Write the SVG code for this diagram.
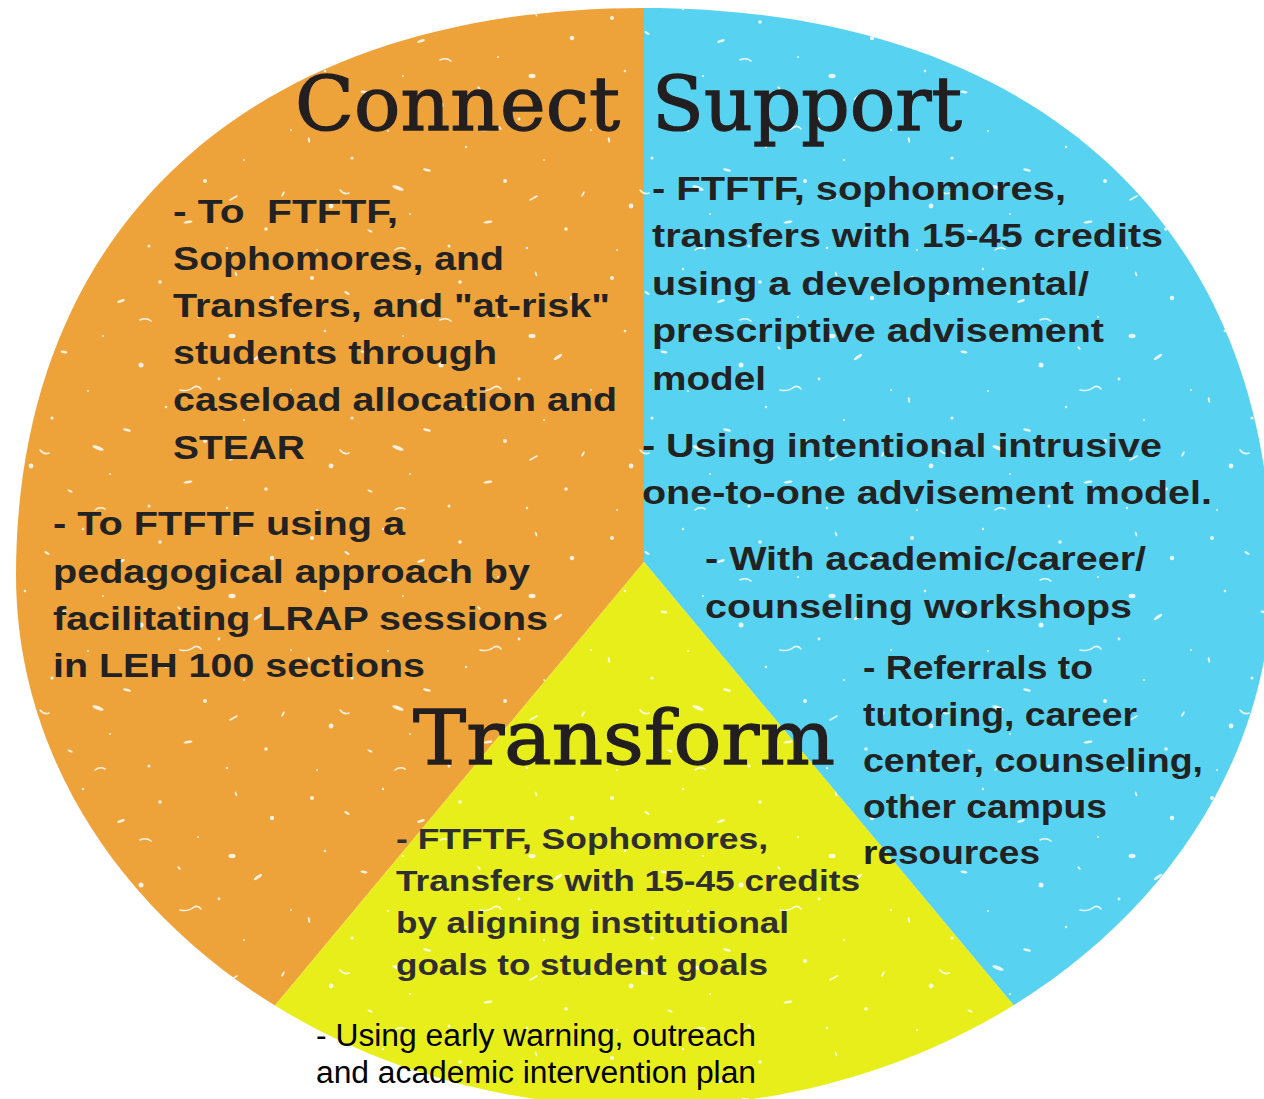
<svg xmlns="http://www.w3.org/2000/svg" width="1264" height="1099" viewBox="0 0 1264 1099">
  <defs>
    <style>
      .h { font-family: "DejaVu Serif", "Liberation Serif", serif; font-size: 74px; fill: #231f20; stroke: #231f20; stroke-width: 1.3px; }
      .t { font-family: "Liberation Sans", Arial, sans-serif; font-weight: bold; font-size: 34px; fill: #222; }
      .s { font-family: "Liberation Sans", Arial, sans-serif; font-weight: bold; font-size: 29px; fill: #2f2f2f; }
      .n { font-family: "Liberation Sans Narrow", "Liberation Sans", Arial, sans-serif; font-size: 31px; fill: #000; }
      .speck { fill: #fff; }
      .streak { fill: none; stroke: #fff; stroke-width: 1.6; stroke-linecap: round; }
    </style>
    <!-- outline of the disc: squarish upper half, rounder lower half -->
    <clipPath id="disc">
      <path d="M16,575 C16,223 255,8 644,8 C1033,8 1272,223 1272,575 C1272,869 991,1107 644,1107 C297,1107 16,869 16,575 Z"/>
    </clipPath>
    <!-- scattered white flecks laid over the coloured sectors -->
    <pattern id="grain" width="300" height="260" patternUnits="userSpaceOnUse">
      <g class="speck">
        <circle cx="12" cy="18" r="2"/>
        <ellipse cx="47" cy="33" rx="3" ry="1.2" transform="rotate(30 47 33)"/>
        <circle cx="83" cy="9" r="1.2"/>
        <ellipse cx="121" cy="41" rx="4" ry="1.3" transform="rotate(-20 121 41)"/>
        <circle cx="160" cy="22" r="1.8"/>
        <circle cx="198" cy="57" r="1"/>
        <ellipse cx="236" cy="14" rx="2.5" ry="1" transform="rotate(70 236 14)"/>
        <circle cx="272" cy="38" r="2.2"/>
        <circle cx="25" cy="71" r="1.3"/>
        <ellipse cx="64" cy="92" rx="3.5" ry="1.2" transform="rotate(10 64 92)"/>
        <circle cx="103" cy="76" r="1"/>
        <circle cx="141" cy="105" r="2.5"/>
        <ellipse cx="179" cy="88" rx="2" ry="1" transform="rotate(45 179 88)"/>
        <circle cx="219" cy="119" r="1.4"/>
        <ellipse cx="258" cy="97" rx="5" ry="1.4" transform="rotate(-35 258 97)"/>
        <circle cx="291" cy="130" r="1"/>
        <ellipse cx="9" cy="140" rx="3" ry="1.1" transform="rotate(80 9 140)"/>
        <circle cx="52" cy="158" r="1.6"/>
        <circle cx="88" cy="131" r="1"/>
        <ellipse cx="127" cy="170" rx="4" ry="1.2" transform="rotate(15 127 170)"/>
        <circle cx="166" cy="147" r="1.2"/>
        <circle cx="205" cy="181" r="2"/>
        <circle cx="244" cy="160" r="1"/>
        <ellipse cx="283" cy="194" rx="3" ry="1" transform="rotate(-60 283 194)"/>
        <circle cx="31" cy="206" r="2.4"/>
        <ellipse cx="70" cy="231" rx="2.8" ry="1" transform="rotate(25 70 231)"/>
        <circle cx="110" cy="214" r="1"/>
        <circle cx="149" cy="246" r="1.5"/>
        <ellipse cx="188" cy="222" rx="4.5" ry="1.3" transform="rotate(-10 188 222)"/>
        <circle cx="227" cy="248" r="1.2"/>
        <circle cx="266" cy="229" r="1.8"/>
        <circle cx="17" cy="250" r="1"/>
        <ellipse cx="98" cy="188" rx="6" ry="1.8" transform="rotate(20 98 188)"/>
        <ellipse cx="232" cy="76" rx="3.5" ry="2.2"/>
      </g>
      <path class="streak" d="M140,60 q6,-3 11,1"/>
      <path class="streak" d="M40,190 q4,5 9,3"/>
      <path class="streak" d="M230,200 l7,-4"/>
      <path class="streak" d="M95,250 q5,-4 10,-1"/>
      <path class="streak" d="M180,130 q8,2 14,-3 q4,-2 7,2"/>
    </pattern>
  </defs>

  <rect width="1264" height="1099" fill="#fff"/>

  <!-- three sectors meeting at the hub (644,562) -->
  <g clip-path="url(#disc)">
    <polygon id="sector-connect" points="644,562 644,-10 -10,-10 -10,1110 188,1110" fill="#eea33a"/>
    <polygon id="sector-support" points="644,562 644,-10 1280,-10 1280,1110 1101,1110" fill="#57d3f1"/>
    <polygon id="sector-transform" points="644,562 188,1110 1101,1110" fill="#e8ee19"/>
    <rect x="0" y="0" width="1264" height="1099" fill="url(#grain)" opacity="0.85"/>
  </g>

  <!-- Connect -->
  <g id="connect">
    <text class="h" x="295" y="130" textLength="325" lengthAdjust="spacingAndGlyphs">Connect</text>
    <g class="t">
      <text x="173" y="223" textLength="225" lengthAdjust="spacingAndGlyphs" xml:space="preserve">- To  FTFTF,</text>
      <text x="173" y="270" textLength="331" lengthAdjust="spacingAndGlyphs">Sophomores, and</text>
      <text x="173" y="317" textLength="437" lengthAdjust="spacingAndGlyphs">Transfers, and "at-risk"</text>
      <text x="173" y="364" textLength="324" lengthAdjust="spacingAndGlyphs">students through</text>
      <text x="173" y="411" textLength="444" lengthAdjust="spacingAndGlyphs">caseload allocation and</text>
      <text x="173" y="459" textLength="132" lengthAdjust="spacingAndGlyphs">STEAR</text>
    </g>
    <g class="t">
      <text x="53" y="535" textLength="352" lengthAdjust="spacingAndGlyphs">- To FTFTF using a</text>
      <text x="53" y="583" textLength="477" lengthAdjust="spacingAndGlyphs">pedagogical approach by</text>
      <text x="53" y="630" textLength="495" lengthAdjust="spacingAndGlyphs">facilitating LRAP sessions</text>
      <text x="53" y="677" textLength="372" lengthAdjust="spacingAndGlyphs">in LEH 100 sections</text>
    </g>
  </g>

  <!-- Support -->
  <g id="support">
    <text class="h" x="652" y="130" textLength="310" lengthAdjust="spacingAndGlyphs">Support</text>
    <g class="t">
      <text x="652" y="200" textLength="414" lengthAdjust="spacingAndGlyphs">- FTFTF, sophomores,</text>
      <text x="652" y="247" textLength="511" lengthAdjust="spacingAndGlyphs">transfers with 15-45 credits</text>
      <text x="652" y="295" textLength="437" lengthAdjust="spacingAndGlyphs">using a developmental/</text>
      <text x="652" y="342" textLength="452" lengthAdjust="spacingAndGlyphs">prescriptive advisement</text>
      <text x="652" y="390" textLength="114" lengthAdjust="spacingAndGlyphs">model</text>
    </g>
    <g class="t">
      <text x="642" y="457" textLength="520" lengthAdjust="spacingAndGlyphs">- Using intentional intrusive</text>
      <text x="642" y="504" textLength="570" lengthAdjust="spacingAndGlyphs">one-to-one advisement model.</text>
    </g>
    <g class="t">
      <text x="705" y="570" textLength="441" lengthAdjust="spacingAndGlyphs">- With academic/career/</text>
      <text x="705" y="618" textLength="427" lengthAdjust="spacingAndGlyphs">counseling workshops</text>
    </g>
    <g class="t">
      <text x="863" y="679" textLength="230" lengthAdjust="spacingAndGlyphs">- Referrals to</text>
      <text x="863" y="726" textLength="274" lengthAdjust="spacingAndGlyphs">tutoring, career</text>
      <text x="863" y="772" textLength="340" lengthAdjust="spacingAndGlyphs">center, counseling,</text>
      <text x="863" y="818" textLength="244" lengthAdjust="spacingAndGlyphs">other campus</text>
      <text x="863" y="864" textLength="177" lengthAdjust="spacingAndGlyphs">resources</text>
    </g>
  </g>

  <!-- Transform -->
  <g id="transform">
    <text class="h" x="413" y="764" textLength="422" lengthAdjust="spacingAndGlyphs">Transform</text>
    <g class="s">
      <text x="396" y="849" textLength="372" lengthAdjust="spacingAndGlyphs">- FTFTF, Sophomores,</text>
      <text x="396" y="891" textLength="464" lengthAdjust="spacingAndGlyphs">Transfers with 15-45 credits</text>
      <text x="396" y="933" textLength="393" lengthAdjust="spacingAndGlyphs">by aligning institutional</text>
      <text x="396" y="975" textLength="372" lengthAdjust="spacingAndGlyphs">goals to student goals</text>
    </g>
    <g class="n">
      <text x="316" y="1046" textLength="440" lengthAdjust="spacingAndGlyphs">- Using early warning, outreach</text>
      <text x="316" y="1083" textLength="440" lengthAdjust="spacingAndGlyphs">and academic intervention plan</text>
    </g>
  </g>
</svg>
